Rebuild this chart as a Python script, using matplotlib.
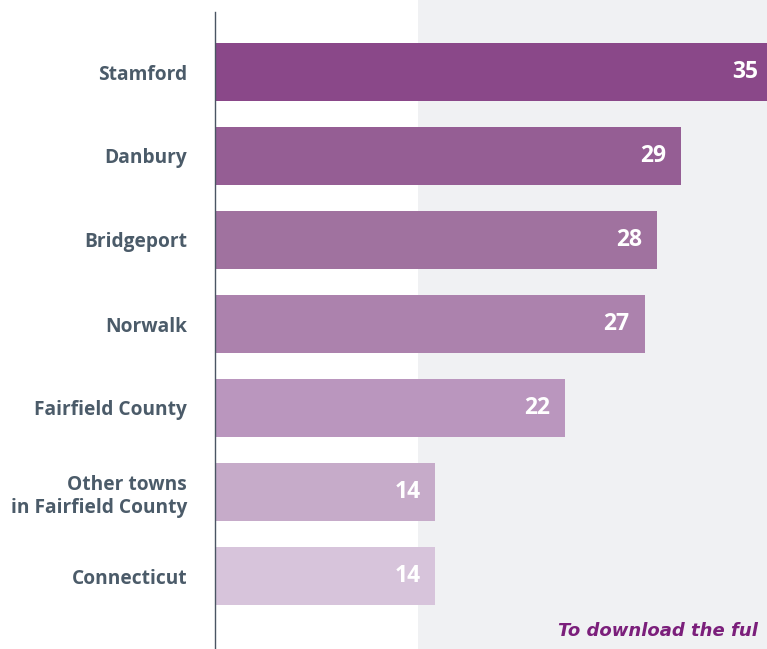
import matplotlib
matplotlib.use("Agg")
import matplotlib.pyplot as plt
from matplotlib.patches import Rectangle

categories = ["Stamford", "Danbury", "Bridgeport", "Norwalk", "Fairfield County",
              "Other towns\nin Fairfield County", "Connecticut"]
values = [35.2, 29.4, 27.9, 27.1, 22.1, 13.9, 13.9]
labels = ["35", "29", "28", "27", "22", "14", "14"]
colors = ["#8A4889", "#955E94", "#A0729F", "#AC82AD", "#BA96BE", "#C6ABC9", "#D7C4DB"]

W, H = 767, 649
fig = plt.figure(figsize=(W / 100, H / 100), dpi=100)
fig.patch.set_facecolor("white")
fig.patches.append(Rectangle((418 / W, 0), 1 - 418 / W, 1, transform=fig.transFigure,
                             facecolor="#F0F1F3", edgecolor="none", zorder=-5))

ax = fig.add_axes([215 / W, 0, 1 - 215 / W, 1 - 12 / H])
ax.set_facecolor("none")
ax.set_zorder(1)
pos = list(range(len(categories)))
ax.barh(pos, values, height=58 / 84, color=colors, zorder=2)
ax.set_xlim(0, 552 / 15.85)
ax.set_ylim(6 + 73 / 84, -60 / 84)

for sp in ["top", "right", "bottom"]:
    ax.spines[sp].set_visible(False)
ax.spines["left"].set_color("#4A5563")
ax.spines["left"].set_linewidth(1.0)
ax.set_xticks([])
ax.set_yticks(pos)
ax.set_yticklabels(categories, fontsize=13.8, fontweight="bold", color="#4B5B69",
                   family="Open Sans", linespacing=1.25)
ax.tick_params(axis="y", length=0, pad=20)

for p, v, lab in zip(pos, values, labels):
    ax.annotate(lab, (v, p), xytext=(-15, 0), textcoords="offset pixels",
                ha="right", va="center", color="white", fontsize=16.5,
                fontweight="bold", family="Open Sans", zorder=3,
                annotation_clip=False)

fig.text(558 / W, 1 - 631 / H, "To download the ful", color="#7B1F7B",
         fontsize=13, fontweight="bold", fontstyle="italic", family="DejaVu Sans",
         ha="left", va="center")

fig.savefig("out.png", dpi=100)
